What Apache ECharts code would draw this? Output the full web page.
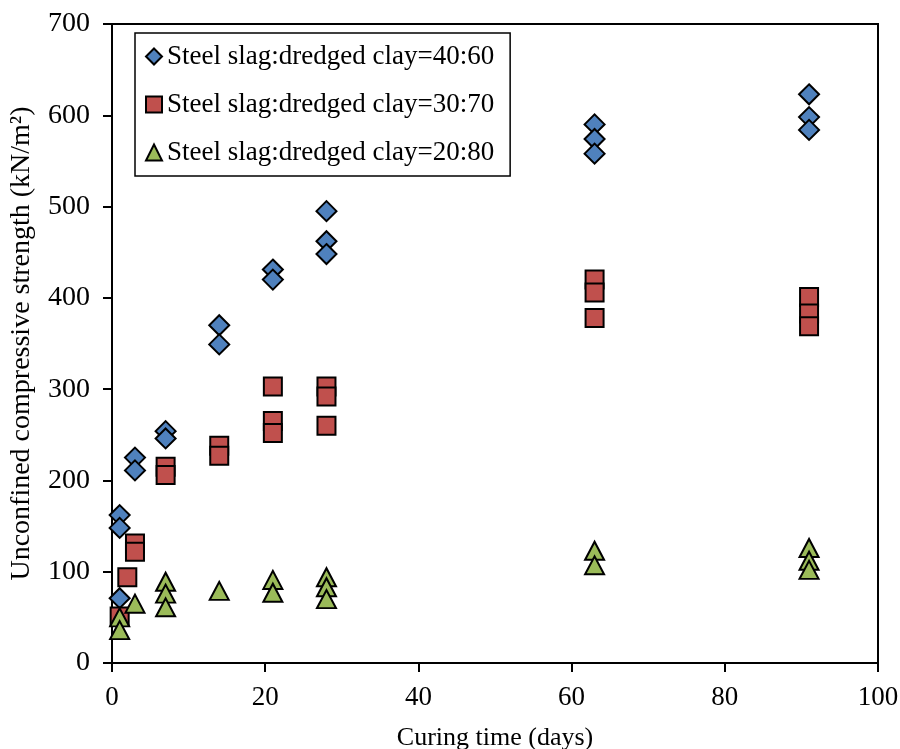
<!DOCTYPE html>
<html>
<head>
<meta charset="utf-8">
<script src="https://cdn.jsdelivr.net/npm/echarts@6/dist/echarts.min.js"></script>
<style>
  html, body { margin: 0; padding: 0; background: #fff; }
  #chart { width: 900px; height: 749px; }
</style>
</head>
<body>
<div id="chart"></div>
<script>
// curing time (days) and strength (kN/m2), one [x, y] pair per specimen
const seriesNames = [
  'Steel slag:dredged clay=40:60',
  'Steel slag:dredged clay=30:70',
  'Steel slag:dredged clay=20:80'
]
const mix4060 = [
  [1, 162], [1, 148], [1, 71],
  [3, 225], [3, 211],
  [7, 254], [7, 246],
  [14, 370], [14, 349],
  [21, 431], [21, 420],
  [28, 495], [28, 462], [28, 448],
  [63, 590], [63, 574], [63, 558],
  [91, 623], [91, 598], [91, 584]
]
const mix3070 = [
  [1, 51], [2, 94],
  [3, 131], [3, 122],
  [7, 215], [7, 206],
  [14, 238], [14, 227],
  [21, 303], [21, 265], [21, 252],
  [28, 303], [28, 292], [28, 260],
  [63, 420], [63, 406], [63, 378],
  [91, 401], [91, 383], [91, 369]
]
const mix2080 = [
  [1, 50], [1, 36],
  [3, 65],
  [7, 89], [7, 76], [7, 61],
  [14, 79],
  [21, 91], [21, 77],
  [28, 94], [28, 83], [28, 70],
  [63, 123], [63, 107],
  [91, 126], [91, 112], [91, 102]
]

const font = 'Liberation Serif, Times New Roman, serif'

let chart = echarts.init(document.getElementById('chart'))
chart.setOption({
  animation: false,
  textStyle: { fontFamily: font },
  grid: {
    left: 112,
    right: 22,
    top: 24,
    bottom: 86,
    outerBoundsMode: 'none',
    containLabel: false,
    show: true,
    borderColor: '#000',
    borderWidth: 2,
  },
  legend: {
    orient: 'vertical',
    left: 135,
    top: 33,
    padding: [10, 16, 10, 10],
    itemGap: 21,
    itemWidth: 16,
    itemHeight: 16,
    borderColor: '#000',
    borderWidth: 1.5,
    backgroundColor: '#fff',
    textStyle: { fontFamily: font, fontSize: 27, color: '#000' },
    data: seriesNames,
  },
  xAxis: {
    type: 'value',
    min: 0,
    max: 100,
    interval: 20,
    name: 'Curing time (days)',
    nameLocation: 'middle',
    nameGap: 62,
    nameTextStyle: { fontFamily: font, fontSize: 26, color: '#000' },
    axisLine: { show: true, onZero: false, lineStyle: { color: '#000', width: 2 } },
    axisTick: { show: true, length: 9, lineStyle: { color: '#000', width: 2 } },
    axisLabel: { fontFamily: font, fontSize: 27, color: '#000', margin: 21 },
    splitLine: { show: false },
  },
  yAxis: {
    type: 'value',
    min: 0,
    max: 700,
    interval: 100,
    name: 'Unconfined compressive strength (kN/m²)',
    nameLocation: 'middle',
    nameGap: 76,
    nameTextStyle: { fontFamily: font, fontSize: 28, color: '#000' },
    axisLine: { show: true, onZero: false, lineStyle: { color: '#000', width: 2 } },
    axisTick: { show: true, length: 9, lineStyle: { color: '#000', width: 2 } },
    axisLabel: { fontFamily: font, fontSize: 28, color: '#000', margin: 22 },
    splitLine: { show: false },
  },
  series: [
    {
      name: seriesNames[0],
      type: 'scatter',
      symbol: 'diamond',
      symbolSize: [20, 20],
      itemStyle: { color: '#4F81BD', borderColor: '#000', borderWidth: 2, opacity: 1 },
      data: mix4060,
    },
    {
      name: seriesNames[1],
      type: 'scatter',
      symbol: 'rect',
      symbolSize: [18, 18],
      itemStyle: { color: '#C0504D', borderColor: '#000', borderWidth: 2, opacity: 1 },
      data: mix3070,
    },
    {
      name: seriesNames[2],
      type: 'scatter',
      symbol: 'triangle',
      symbolSize: [19, 18],
      itemStyle: { color: '#9BBB59', borderColor: '#000', borderWidth: 2, opacity: 1 },
      data: mix2080,
    },
  ],
})
</script>
</body>
</html>
